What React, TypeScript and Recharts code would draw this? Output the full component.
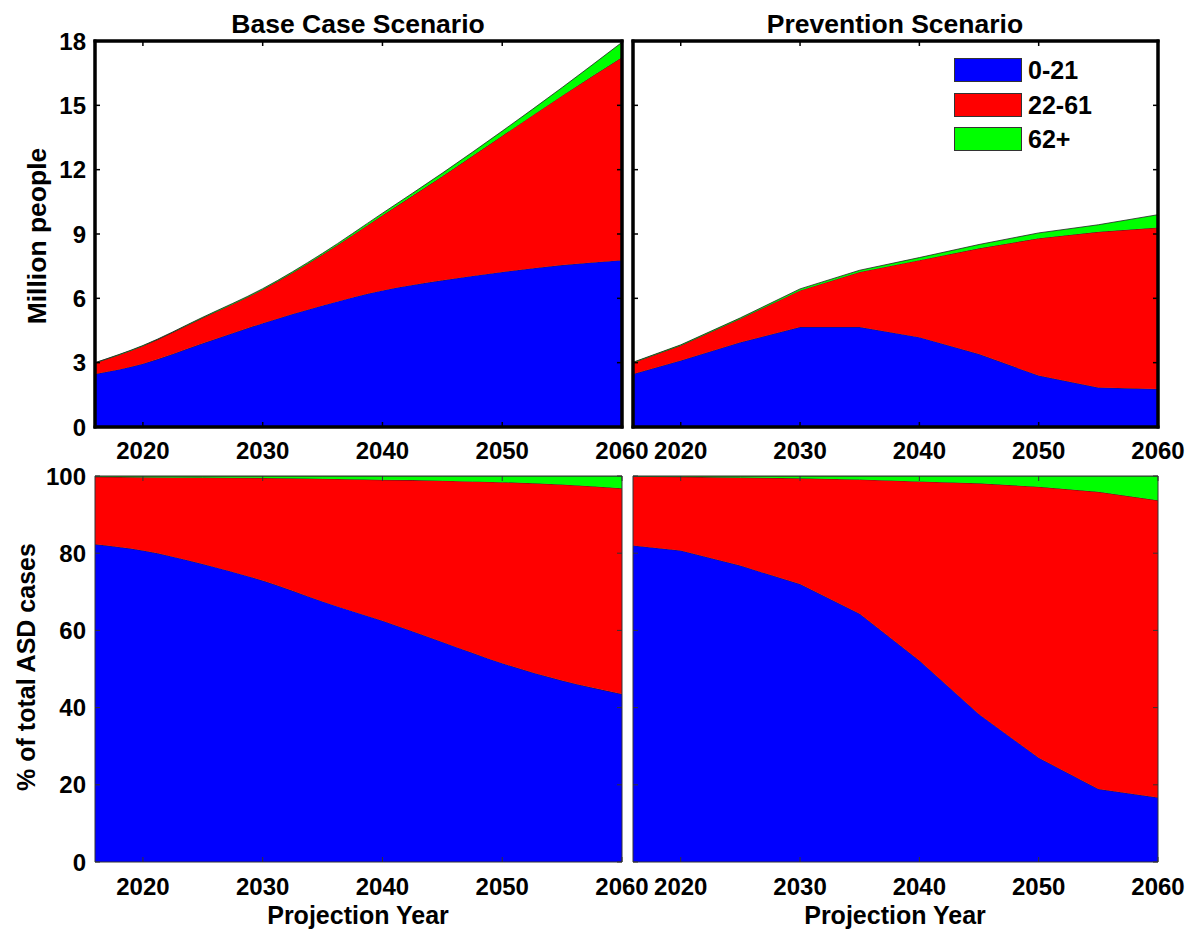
import { AreaChart, Area, XAxis, YAxis, Legend, ReferenceArea } from "recharts";

const FONT = '"Liberation Sans", Arial, Helvetica, sans-serif';

const YEARS = [2016, 2020, 2025, 2030, 2035, 2040, 2045, 2050, 2055, 2060];
const YEAR_TICKS = [2020, 2030, 2040, 2050, 2060];
const MILLION_TICKS = [0, 3, 6, 9, 12, 15, 18];
const PERCENT_TICKS = [0, 20, 40, 60, 80, 100];

const AGE_GROUPS = ["0-21", "22-61", "62+"];
const COLORS = ["#0000ff", "#ff0000", "#00ff00"];

// Million people, base case
const BASE_YOUNG = [2.47, 2.95, 3.9, 4.84, 5.67, 6.37, 6.84, 7.23, 7.55, 7.78];
const BASE_ADULT = [0.52, 0.83, 1.19, 1.57, 2.37, 3.5, 4.85, 6.35, 7.9, 9.46];
const BASE_OLD = [0.01, 0.02, 0.03, 0.04, 0.06, 0.1, 0.15, 0.22, 0.38, 0.7];

// Million people, prevention
const PREV_YOUNG = [2.47, 3.1, 3.95, 4.66, 4.66, 4.19, 3.4, 2.4, 1.84, 1.77];
const PREV_ADULT = [0.53, 0.7, 1.1, 1.71, 2.57, 3.59, 4.93, 6.4, 7.26, 7.53];
const PREV_OLD = [0.02, 0.03, 0.04, 0.07, 0.08, 0.12, 0.18, 0.25, 0.33, 0.6];

// % of total ASD cases, base case
const BASE_PCT_YOUNG = [82.3, 80.7, 77.2, 72.9, 67.5, 62.5, 57, 51.5, 47, 43.5];
const BASE_PCT_ADULT = [17.5, 19.0, 22.4, 26.6, 31.8, 36.5, 41.8, 46.9, 50.8, 53.3];
const BASE_PCT_OLD = [0.2, 0.3, 0.4, 0.5, 0.7, 1.0, 1.2, 1.6, 2.2, 3.2];

// % of total ASD cases, prevention
const PREV_PCT_YOUNG = [82, 80.7, 76.8, 72, 64.3, 52.2, 38.3, 27, 18.9, 16.7];
const PREV_PCT_ADULT = [17.9, 19.1, 22.8, 27.4, 34.8, 46.4, 59.8, 70.2, 77.0, 77.0];
const PREV_PCT_OLD = [0.1, 0.2, 0.4, 0.6, 0.9, 1.4, 1.9, 2.8, 4.1, 6.3];

const KEYS = ["young", "adult", "old"];

function rows(a: number[], b: number[], c: number[]) {
  return YEARS.map((year, i) => ({ year, young: a[i], adult: b[i], old: c[i] }));
}

const tickStyle = { fontSize: 24, fontWeight: 700, fill: "#000", fontFamily: FONT };
const blank = () => <g />;

function LegendBox() {
  return (
    <div style={{ display: "flex", flexDirection: "column", gap: 10.5 }}>
      {AGE_GROUPS.map((g, i) => (
        <div key={g} style={{ display: "flex", alignItems: "center", height: 24 }}>
          <div
            style={{
              width: 68,
              height: 24,
              background: COLORS[i],
              border: "1px solid #333",
              boxSizing: "border-box",
            }}
          />
          <span
            style={{
              marginLeft: 6,
              fontSize: 25,
              fontWeight: 700,
              fontFamily: FONT,
              lineHeight: "24px",
              color: "#000",
            }}
          >
            {g}
          </span>
        </div>
      ))}
    </div>
  );
}

function Panel({
  data, x, y, w, h, margin, yMax, yTicks, yLabels, framed, curve, xAxisH, xTickMargin, legend,
}: any) {
  const line = framed
    ? { stroke: "#000", strokeWidth: 3, strokeLinecap: "square" }
    : { stroke: "#333", strokeWidth: 1 };
  const tl = framed ? { stroke: "#000", strokeWidth: 1.5 } : { stroke: "#333", strokeWidth: 1 };
  return (
    <div style={{ position: "absolute", left: x, top: y }}>
      <AreaChart width={w} height={h} data={data} margin={margin}>
        {KEYS.map((k, i) => (
          <Area
            key={k}
            type={curve}
            dataKey={k}
            name={AGE_GROUPS[i]}
            stackId="s"
            fill={COLORS[i]}
            fillOpacity={1}
            stroke="#222"
            strokeWidth={0.8}
            isAnimationActive={false}
          />
        ))}
        {framed && (
          <ReferenceArea
            x1={2016}
            x2={2060}
            y1={0}
            y2={yMax}
            fill="none"
            stroke="#000"
            strokeWidth={3}
            ifOverflow="visible"
          />
        )}
        <XAxis
          dataKey="year"
          type="number"
          domain={[2016, 2060]}
          ticks={YEAR_TICKS}
          interval={0}
          allowDataOverflow
          height={xAxisH}
          tickSize={-5}
          tickMargin={xTickMargin}
          axisLine={line}
          tickLine={tl}
          tick={tickStyle}
        />
        <XAxis
          xAxisId="top"
          orientation="top"
          dataKey="year"
          type="number"
          domain={[2016, 2060]}
          ticks={YEAR_TICKS}
          interval={0}
          allowDataOverflow
          height={1}
          tickSize={-5}
          axisLine={line}
          tickLine={tl}
          tick={blank}
        />
        <YAxis
          type="number"
          domain={[0, yMax]}
          ticks={yTicks}
          interval={0}
          allowDataOverflow
          width={yLabels ? 60 : 1}
          tickSize={-5}
          tickMargin={14}
          axisLine={line}
          tickLine={tl}
          tick={yLabels ? tickStyle : blank}
        />
        <YAxis
          yAxisId="right"
          orientation="right"
          type="number"
          domain={[0, yMax]}
          ticks={yTicks}
          interval={0}
          allowDataOverflow
          width={1}
          tickSize={-5}
          axisLine={line}
          tickLine={tl}
          tick={blank}
        />
        {legend && (
          <Legend
            layout="vertical"
            align="center"
            verticalAlign="middle"
            wrapperStyle={{ left: 354, top: 58, width: "auto", height: "auto" }}
            content={() => <LegendBox />}
          />
        )}
      </AreaChart>
    </div>
  );
}

function Txt({ x, y, text, rotate, size = 25 }: { x: number; y: number; text: string; rotate?: boolean; size?: number }) {
  return (
    <div
      style={{
        position: "absolute",
        left: x,
        top: y,
        transform: `translate(-50%, -50%)${rotate ? " rotate(-90deg)" : ""}`,
        whiteSpace: "nowrap",
        fontFamily: FONT,
        fontWeight: 700,
        fontSize: size,
        color: "#000",
        lineHeight: 1,
      }}
    >
      {text}
    </div>
  );
}

export default function App() {
  const topLeftMargin = { top: 40, right: 37, bottom: 0, left: 35 };
  const topRightMargin = { top: 40, right: 31, bottom: 0, left: 32 };
  const botLeftMargin = { top: 35, right: 37, bottom: 0, left: 35 };
  const botRightMargin = { top: 35, right: 31, bottom: 0, left: 32 };
  return (
    <div
      style={{
        position: "absolute",
        left: 0,
        top: 0,
        width: 1190,
        height: 935,
        background: "#fff",
        overflow: "hidden",
      }}
    >
      <Panel
        data={rows(BASE_YOUNG, BASE_ADULT, BASE_OLD)}
        x={0} y={0} w={660} h={470} margin={topLeftMargin}
        yMax={18} yTicks={MILLION_TICKS} yLabels framed curve="monotone"
        xAxisH={43} xTickMargin={20}
      />
      <Panel
        data={rows(PREV_YOUNG, PREV_ADULT, PREV_OLD)}
        x={600} y={0} w={590} h={470} margin={topRightMargin}
        yMax={18} yTicks={MILLION_TICKS} yLabels={false} framed curve="linear"
        xAxisH={43} xTickMargin={20} legend
      />
      <Panel
        data={rows(BASE_PCT_YOUNG, BASE_PCT_ADULT, BASE_PCT_OLD)}
        x={0} y={440} w={660} h={480} margin={botLeftMargin}
        yMax={100} yTicks={PERCENT_TICKS} yLabels framed={false} curve="monotone"
        xAxisH={58} xTickMargin={21}
      />
      <Panel
        data={rows(PREV_PCT_YOUNG, PREV_PCT_ADULT, PREV_PCT_OLD)}
        x={600} y={440} w={590} h={480} margin={botRightMargin}
        yMax={100} yTicks={PERCENT_TICKS} yLabels={false} framed={false} curve="linear"
        xAxisH={58} xTickMargin={21}
      />
      <Txt x={358} y={24} text="Base Case Scenario" size={26.5} />
      <Txt x={895} y={24} text="Prevention Scenario" size={26.5} />
      <Txt x={37} y={236} text="Million people" rotate size={26.5} />
      <Txt x={26} y={667} text="% of total ASD cases" rotate />
      <Txt x={358} y={915} text="Projection Year" />
      <Txt x={895} y={915} text="Projection Year" />
    </div>
  );
}
